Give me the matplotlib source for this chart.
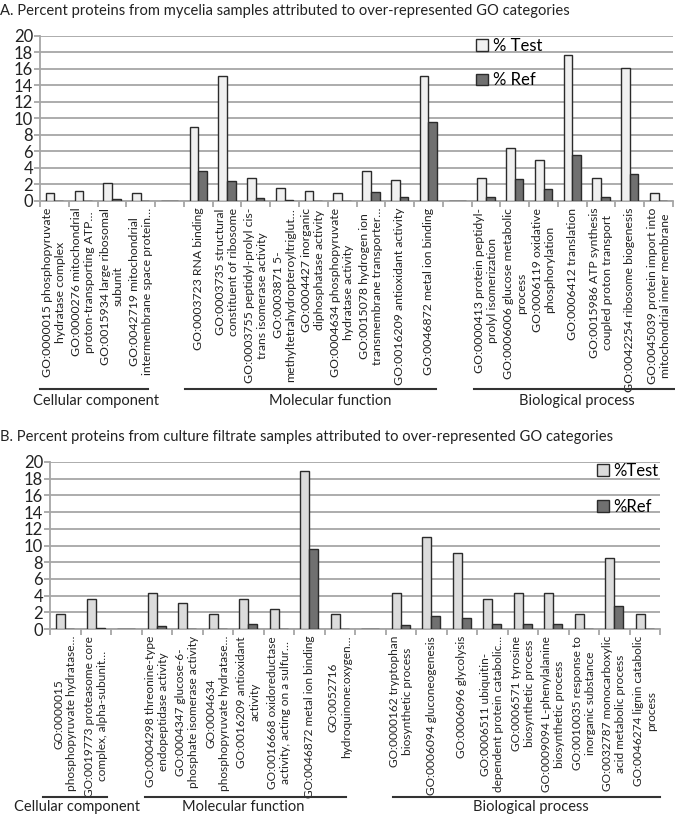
import matplotlib
matplotlib.use("Agg")
import matplotlib.pyplot as plt
import numpy as np

plt.rcParams['font.family'] = ['Lato', 'DejaVu Sans']

# ---------------- Data: panel A ----------------
labels_a = [
    "GO:0000015 phosphopyruvate\nhydratase complex",
    "GO:0000276 mitochondrial\nproton-transporting ATP…",
    "GO:0015934 large ribosomal\nsubunit",
    "GO:0042719 mitochondrial\nintermembrane space protein…",
    "",
    "GO:0003723 RNA binding",
    "GO:0003735 structural\nconstituent of ribosome",
    "GO:0003755 peptidyl-prolyl cis-\ntrans isomerase activity",
    "GO:0003871 5-\nmethyltetrahydropteroyltriglut…",
    "GO:0004427 inorganic\ndiphosphatase activity",
    "GO:0004634 phosphopyruvate\nhydratase activity",
    "GO:0015078 hydrogen ion\ntransmembrane transporter…",
    "GO:0016209 antioxidant activity",
    "GO:0046872 metal ion binding",
    "",
    "GO:0000413 protein peptidyl-\nprolyl isomerization",
    "GO:0006006 glucose metabolic\nprocess",
    "GO:0006119 oxidative\nphosphorylation",
    "GO:0006412 translation",
    "GO:0015986 ATP synthesis\ncoupled proton transport",
    "GO:0042254 ribosome biogenesis",
    "GO:0045039 protein import into\nmitochondrial inner membrane",
]
test_a = [0.9, 1.2, 2.2, 0.9, 0,
          8.9, 15.2, 2.7, 1.5, 1.2, 0.9, 3.6, 2.5, 15.2, 0,
          2.75, 6.4, 4.9, 17.65, 2.75, 16.15, 0.9]
ref_a = [0, 0, 0.2, 0, 0,
         3.6, 2.4, 0.35, 0.05, 0, 0, 1.1, 0.5, 9.5, 0,
         0.4, 2.6, 1.4, 5.6, 0.5, 3.3, 0]
groups_a = ["Cellular component", "Molecular function", "Biological process"]

# ---------------- Data: panel B ----------------
labels_b = [
    "GO:0000015\nphosphopyruvate hydratase…",
    "GO:0019773 proteasome core\ncomplex, alpha-subunit…",
    "",
    "GO:0004298 threonine-type\nendopeptidase activity",
    "GO:0004347 glucose-6-\nphosphate isomerase activity",
    "GO:0004634\nphosphopyruvate hydratase…",
    "GO:0016209 antioxidant\nactivity",
    "GO:0016668 oxidoreductase\nactivity, acting on a sulfur…",
    "GO:0046872 metal ion binding",
    "GO:0052716\nhydroquinone:oxygen…",
    "",
    "GO:0000162 tryptophan\nbiosynthetic process",
    "GO:0006094 gluconeogenesis",
    "GO:0006096 glycolysis",
    "GO:0006511 ubiquitin-\ndependent protein catabolic…",
    "GO:0006571 tyrosine\nbiosynthetic process",
    "GO:0009094 L-phenylalanine\nbiosynthetic process",
    "GO:0010035 response to\ninorganic substance",
    "GO:0032787 monocarboxylic\nacid metabolic process",
    "GO:0046274 lignin catabolic\nprocess",
]
test_b = [1.85, 3.65, 0,
          4.3, 3.1, 1.85, 3.65, 2.45, 18.9, 1.85, 0,
          4.3, 11.0, 9.15, 3.65, 4.3, 4.3, 1.85, 8.55, 1.85]
ref_b = [0, 0.1, 0,
         0.3, 0, 0, 0.6, 0.05, 9.6, 0, 0,
         0.5, 1.6, 1.35, 0.55, 0.55, 0.55, 0.05, 2.75, 0]
groups_b = ["Cellular component", "Molecular function", "Biological process"]

yticks = [0, 2, 4, 6, 8, 10, 12, 14, 16, 18, 20]

W, H = 675, 814
fig = plt.figure(figsize=(W / 100, H / 100), dpi=100)


def rect(l, r, t, b):
    return [l / W, 1 - b / H, (r - l) / W, (b - t) / H]


def fx(x):
    return x / W


def fy(y):
    return 1 - y / H


EDGE = "#2b2b2b"
GRID = "#a6a6a6"


def panel(axrect, labels, test, ref, test_color, leg_names, leg_anchor, leg_spacing,
          group_names, group_lines, group_texts, line_y, text_y, lab_fs):
    ax = fig.add_axes(axrect)
    n = len(labels)
    x = np.arange(n)
    w = 0.3
    ax.bar(x - w / 2, test, w, color=test_color, edgecolor=EDGE, linewidth=1.0,
           label=leg_names[0], zorder=3)
    ax.bar(x + w / 2, ref, w, color="#707070", edgecolor=EDGE, linewidth=1.0,
           label=leg_names[1], zorder=3)
    ax.set_xlim(-0.5, n - 0.5)
    ax.set_ylim(0, 20)
    ax.set_yticks(yticks)
    ax.yaxis.grid(True, color=GRID, linewidth=1.3, zorder=0)
    ax.set_axisbelow(True)
    for s in ("top", "right"):
        ax.spines[s].set_visible(False)
    for s in ("left", "bottom"):
        ax.spines[s].set_color(GRID)
        ax.spines[s].set_linewidth(1.3)
    ax.tick_params(axis="y", length=4, color=GRID, width=1.3, labelsize=12, pad=1,
                   labelcolor="#222222")
    ax.set_xticks(x)
    ax.set_xticklabels(labels, rotation=90, ha="center", va="top",
                       multialignment="center", fontsize=lab_fs, color="#222222",
                       linespacing=1.2)
    ax.tick_params(axis="x", which="major", length=0, pad=5)
    ax.set_xticks(np.arange(n + 1) - 0.5, minor=True)
    ax.tick_params(axis="x", which="minor", length=4, color=GRID, width=1.3)
    ax.legend(loc="upper left", bbox_to_anchor=leg_anchor, frameon=False,
              fontsize=12, labelspacing=leg_spacing, handlelength=0.7,
              handleheight=0.7, handletextpad=0.3, borderpad=0, borderaxespad=0)
    for (x0, x1) in group_lines:
        fig.add_artist(plt.Line2D([fx(x0), fx(x1)], [fy(line_y), fy(line_y)],
                                  color="#333333", linewidth=1.5))
    for name, cx in zip(group_names, group_texts):
        fig.text(fx(cx), fy(text_y), name, ha="center", va="center", fontsize=10.5,
                 color="#222222")
    return ax


fig.text(0.0, fy(11), "A. Percent proteins from mycelia samples attributed to over-represented GO categories",
         ha="left", va="center", fontsize=10.6, color="#222222")
panel(rect(40, 673, 36, 200.7), labels_a, test_a, ref_a, "#f0f0f0",
      ["% Test", "% Ref"], ((476 - 40) / 633, 1.0 - (38 - 36) / 164.7), 1.1,
      groups_a, [(40, 148), (185, 436), (474, 675)], [96, 330, 577], 389, 401, 8.8)

fig.text(0.0, fy(437), "B. Percent proteins from culture filtrate samples attributed to over-represented GO categories",
         ha="left", va="center", fontsize=10.6, color="#222222")
panel(rect(50, 660, 462, 629), labels_b, test_b, ref_b, "#dcdcdc",
      ["%Test", "%Ref"], ((597 - 50) / 610, 1.0 - (463 - 462) / 167), 1.2,
      groups_b, [(43, 107), (145, 346), (393, 660)], [77, 243, 531], 797, 807, 8.6)

fig.savefig("out.png", dpi=100)
